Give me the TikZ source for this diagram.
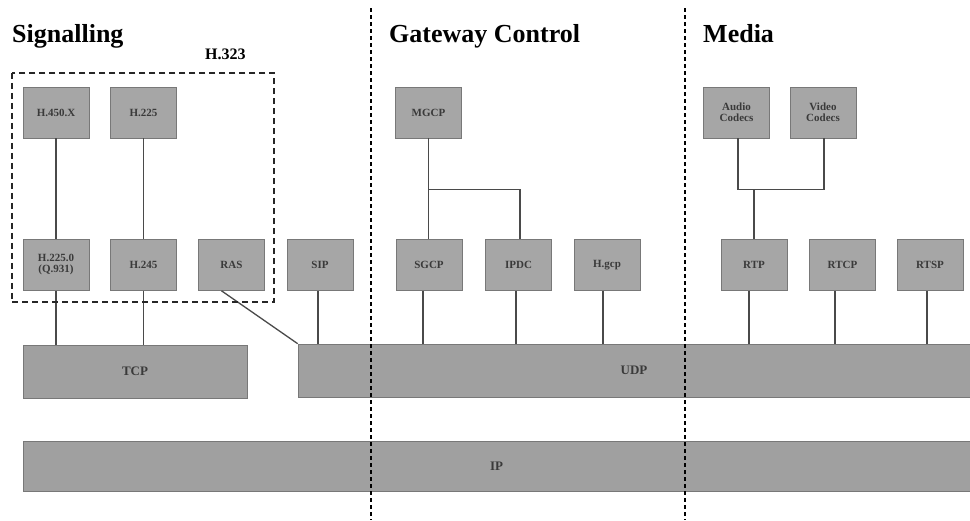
\documentclass[tikz,border=0pt]{standalone}
\usepackage{fontspec}
\setmainfont{Liberation Serif}
\definecolor{boxfill}{HTML}{A6A6A6}
\definecolor{barfill}{HTML}{A0A0A0}
\definecolor{boxedge}{HTML}{787878}
\definecolor{boxtext}{HTML}{3A3A3A}
\definecolor{linec}{HTML}{4A4A4A}
\begin{document}
\begin{tikzpicture}[x=1pt,y=-1pt,
  proto/.style={draw=boxedge,fill=boxfill,line width=0.6pt,minimum width=66pt,minimum height=51pt,
    inner sep=0pt,align=center,text=boxtext,font=\fontsize{11}{11}\selectfont\bfseries},
  bar/.style={draw=boxedge,fill=barfill,line width=0.6pt,inner sep=0pt,text=boxtext,
    font=\fontsize{13}{13}\selectfont\bfseries},
  conn/.style={draw=linec,line width=1.3pt},
  sect/.style={anchor=base west,inner sep=0pt,font=\fontsize{26}{26}\selectfont\bfseries},
  divider/.style={draw=black,line width=1.3pt,dash pattern=on 4pt off 3pt},
  grp/.style={draw=black!85,line width=1.5pt,dash pattern=on 6pt off 4pt}]
\useasboundingbox (0,0) rectangle (970,520);

% bars
\node[bar,minimum width=224pt,minimum height=53pt] (tcp) at (135,371.5) {TCP};
\node[bar,minimum width=672pt,minimum height=53pt] (udp) at (634,370.5) {UDP};
\node[bar,minimum width=947pt,minimum height=50pt] (ip) at (496.5,466) {IP};

% protocol boxes
\node[proto] (h450) at (56,112.5) {H.450.X};
\node[proto] (h225) at (143.5,112.5) {H.225};
\node[proto] (h2250) at (56,265) {H.225.0\\(Q.931)};
\node[proto] (h245) at (143.5,265) {H.245};
\node[proto] (ras) at (231.5,265) {RAS};
\node[proto] (sip) at (320,265) {SIP};
\node[proto] (mgcp) at (428.5,112.5) {MGCP};
\node[proto] (sgcp) at (429,265) {SGCP};
\node[proto] (ipdc) at (518.5,265) {IPDC};
\node[proto] (hgcp) at (607,265) {H.gcp};
\node[proto] (audio) at (736.5,112.5) {Audio\\Codecs};
\node[proto] (video) at (823,112.5) {Video\\Codecs};
\node[proto] (rtp) at (754,265) {RTP};
\node[proto] (rtcp) at (842.5,265) {RTCP};
\node[proto] (rtsp) at (930,265) {RTSP};

% connectors
\draw[conn] (h450.south) -- (h2250.north);
\draw[conn] (h225.south) -- (h245.north);
\draw[conn] (h2250.south) -- (h2250.south |- tcp.north);
\draw[conn] (h245.south) -- (h245.south |- tcp.north);
\draw[conn] ([xshift=-10pt]ras.south) -- (udp.north west);
\draw[conn] ([xshift=-2pt]sip.south) -- ([xshift=-2pt]sip.south |- udp.north);
\draw[conn] ([xshift=-6pt]sgcp.south) -- ([xshift=-6pt]sgcp.south |- udp.north);
\draw[conn] ([xshift=-2.5pt]ipdc.south) -- ([xshift=-2.5pt]ipdc.south |- udp.north);
\draw[conn] ([xshift=-4pt]hgcp.south) -- ([xshift=-4pt]hgcp.south |- udp.north);
\draw[conn] ([xshift=-5pt]rtp.south) -- ([xshift=-5pt]rtp.south |- udp.north);
\draw[conn] ([xshift=-7.5pt]rtcp.south) -- ([xshift=-7.5pt]rtcp.south |- udp.north);
\draw[conn] ([xshift=-3pt]rtsp.south) -- ([xshift=-3pt]rtsp.south |- udp.north);
% gateway tree
\coordinate (gj) at ([yshift=-51.5pt]mgcp.south);
\draw[conn] (mgcp.south) -- (mgcp.south |- sgcp.north);
\draw[conn] (gj) -- ([xshift=1.5pt]ipdc.north |- gj) -- ([xshift=1.5pt]ipdc.north);
% media tree
\coordinate (mj) at ([yshift=-51.5pt]audio.south);
\draw[conn] ([xshift=1.5pt]audio.south) -- ([xshift=1.5pt]mj) -- ([xshift=1pt]video.south |- mj) -- ([xshift=1pt]video.south);
\draw[conn] (rtp.north |- mj) -- (rtp.north);

% H.323 group
\node[draw=none,minimum width=262pt,minimum height=229pt,inner sep=0pt] (h323box) at (143,187.5) {};
\draw[grp] (h323box.north west) rectangle (h323box.south east);
\node[anchor=base west,inner sep=0pt,font=\fontsize{16}{16}\selectfont\bfseries] (h323) at (205,59) {H.323};

% section titles
\node[sect] (sig) at (12,42) {Signalling};
\node[sect] (gw) at (389,42) {Gateway Control};
\node[sect] (med) at (703,42) {Media};

% dividers
\coordinate (d1t) at (371,8);
\coordinate (d1b) at (371,520);
\coordinate (d2t) at (685,8);
\coordinate (d2b) at (685,520);
\draw[divider] (d1t) -- (d1b);
\draw[divider] (d2t) -- (d2b);
\end{tikzpicture}
\end{document}
